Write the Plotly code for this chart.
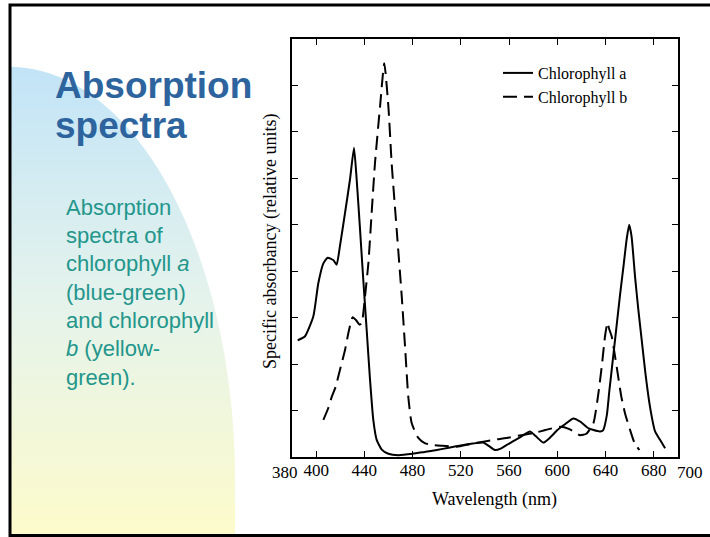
import numpy as np
import plotly.graph_objects as go

W, H = 710, 537

# ---------------- data ----------------
wavelength_a = [384.7, 390.8, 397.7, 401.8, 406, 409.6, 414.2, 417, 419.8, 424, 428.1, 431.4,
                433.6, 436.4, 439.1, 441.9, 444.7, 447.4, 450.2, 454.4, 459.9, 468.2, 480,
                490, 500, 510, 520, 530, 538.6, 543, 548.3, 553, 558, 563.5, 570, 577.3,
                582, 588.4, 594, 600, 606, 613.3, 619, 625, 630, 635.4, 638, 641, 643,
                646, 649, 652, 655, 657.5, 659.5, 661.5, 664.4, 667, 669.9, 673, 676.8,
                681, 685.1, 689.3]
absorb_a = [2.51, 2.6, 3.03, 3.74, 4.17, 4.29, 4.24, 4.14, 4.55, 5.26, 5.98, 6.66,
            5.98, 4.9, 3.81, 2.74, 1.66, 0.8, 0.37, 0.16, 0.07, 0.04, 0.07,
            0.11, 0.15, 0.2, 0.25, 0.29, 0.31, 0.24, 0.15, 0.18, 0.26, 0.34, 0.44, 0.55,
            0.45, 0.31, 0.42, 0.58, 0.7, 0.83, 0.76, 0.63, 0.58, 0.55, 0.58, 0.9, 1.4,
            2.1, 2.8, 3.5, 4.15, 4.7, 5.0, 4.75, 3.88, 3.2, 2.52, 1.8, 1.08,
            0.55, 0.37, 0.19]

wavelength_b = [406, 410, 413, 416, 420, 424, 427, 430.3, 433, 436, 437.8, 440.5, 443.3,
                446, 448.8, 453, 456.5, 459.9, 462.6, 466.8, 471, 473.7, 476.4, 479.2,
                484.7, 490, 496, 505, 516.6, 528, 538.6, 550, 560, 570, 580.1, 590, 602.2,
                610, 618.8, 624, 629.9, 634, 637, 639.5, 641.5, 643, 645, 647, 650, 653,
                656, 660.3, 664, 668]
absorb_b = [0.8, 1.05, 1.3, 1.5, 1.9, 2.31, 2.7, 3.01, 2.95, 2.85, 2.88, 3.45, 4.17,
            5.24, 6.33, 7.55, 8.48, 7.55, 6.33, 4.89, 3.45, 2.38, 1.3, 0.73,
            0.41, 0.3, 0.26, 0.24, 0.22, 0.28, 0.33, 0.38, 0.42, 0.47, 0.51, 0.58, 0.65,
            0.6, 0.47, 0.5, 0.73, 1.37, 2.0, 2.6, 2.89, 2.75, 2.6, 2.3, 1.8, 1.3,
            0.95, 0.58, 0.3, 0.15]

x_tick_vals = [400, 440, 480, 520, 560, 600, 640, 680]
x_tick_text = ["400", "440", "480", "520", "560", "600", "640", "680"]
x_range = [380, 700]
y_tick_vals = [1, 2, 3, 4, 5, 6, 7, 8]
y_range = [0, 9]

title_lines = ["Absorption", "spectra"]
body_lines = ["Absorption", "spectra of", "chlorophyll <i>a</i>", "(blue-green)",
              "and chlorophyll", "<i>b</i> (yellow-", "green)."]


def px(x):
    return x / W


def py(y):
    return 1 - y / H


SERIF = "Liberation Serif, Times New Roman, serif"
SANS = "Liberation Sans, Arial, sans-serif"

fig = go.Figure()

# decorative gradient quarter-ellipse on the slide (pixel axes)
theta = np.linspace(np.pi / 2, 0, 80)
ex = list(10 + 225 * np.cos(theta)) + [235, 10, 10]
ey = list(480 - 413 * np.sin(theta)) + [535, 535, 67]
fig.add_trace(go.Scatter(
    x=ex, y=ey, xaxis="x2", yaxis="y2", mode="none", fill="toself",
    fillgradient=dict(type="vertical",
                      colorscale=[[0, "#C2E4F7"], [0.5, "#E5F3EC"], [1, "#FDFBCB"]],
                      start=67, stop=535),
    hoverinfo="skip", showlegend=False))

fig.add_trace(go.Scatter(
    x=wavelength_a, y=absorb_a, mode="lines", name="Chlorophyll a",
    line=dict(color="black", width=2, shape="spline", smoothing=0.5)))
fig.add_trace(go.Scatter(
    x=wavelength_b, y=absorb_b, mode="lines", name="Chlorophyll b",
    line=dict(color="black", width=2, dash="14px,7px", shape="spline", smoothing=0.5)))

fig.update_layout(
    width=W, height=H, margin=dict(l=0, r=0, t=0, b=0),
    paper_bgcolor="white", plot_bgcolor="rgba(0,0,0,0)",
    showlegend=True,
    legend=dict(x=px(498), y=py(56), xanchor="left", yanchor="top",
                bgcolor="rgba(0,0,0,0)", font=dict(family=SERIF, size=16, color="black"),
                itemwidth=30, tracegroupgap=0),
    xaxis=dict(domain=[px(292), px(678)], range=x_range, tickvals=x_tick_vals,
               ticktext=x_tick_text, ticks="inside", ticklen=6, tickwidth=1,
               tickcolor="black", showline=True, linecolor="black", linewidth=1.6,
               mirror="ticks", showgrid=False, zeroline=False, ticklabelstandoff=-3,
               tickfont=dict(family=SERIF, size=17, color="black")),
    yaxis=dict(domain=[py(457), py(39)], range=y_range, tickvals=y_tick_vals,
               showticklabels=False, ticks="inside", ticklen=6, tickwidth=1,
               tickcolor="black", showline=True, linecolor="black", linewidth=1.6,
               mirror="ticks", showgrid=False, zeroline=False),
    xaxis2=dict(domain=[0, 1], range=[0, W], visible=False, anchor="y2", fixedrange=True),
    yaxis2=dict(domain=[0, 1], range=[H, 0], visible=False, anchor="x2", fixedrange=True),
)

ann = []
# end tick labels, nudged outward like the original figure
ann.append(dict(x=380, xref="x", y=py(472), yref="paper", text="380", showarrow=False,
                xanchor="center", yanchor="middle", xshift=-7,
                font=dict(family=SERIF, size=17, color="black")))
ann.append(dict(x=700, xref="x", y=py(472), yref="paper", text="700", showarrow=False,
                xanchor="center", yanchor="middle", xshift=12,
                font=dict(family=SERIF, size=17, color="black")))
# axis titles
ann.append(dict(x=px(495), y=py(499), xref="paper", yref="paper", text="Wavelength (nm)",
                xanchor="center", yanchor="middle",
                showarrow=False, font=dict(family=SERIF, size=18, color="black")))
ann.append(dict(x=px(270), y=py(242), xref="paper", yref="paper",
                xanchor="center", yanchor="middle",
                text="Specific absorbancy (relative units)", textangle=-90,
                showarrow=False, font=dict(family=SERIF, size=18, color="black")))
# slide title
for i, line in enumerate(title_lines):
    ann.append(dict(x=px(53), y=py(85.5 + 40 * i), xref="paper", yref="paper",
                    xanchor="left", yanchor="middle", text="<b>" + line + "</b>",
                    showarrow=False, font=dict(family=SANS, size=37, color="#2E649E")))
# slide body
for i, line in enumerate(body_lines):
    ann.append(dict(x=px(64), y=py(207.4 + 28.3 * i), xref="paper", yref="paper",
                    xanchor="left", yanchor="middle", text=line,
                    showarrow=False, font=dict(family=SANS, size=22, color="#23968C")))
fig.update_layout(annotations=ann)

# slide border
fig.add_shape(type="rect", xref="paper", yref="paper", x0=px(10), x1=px(716),
              y0=py(535.5), y1=py(5), line=dict(color="black", width=3))

fig.write_html("out.html", config={"displayModeBar": False},
               post_script="document.body.style.margin='0px';")
